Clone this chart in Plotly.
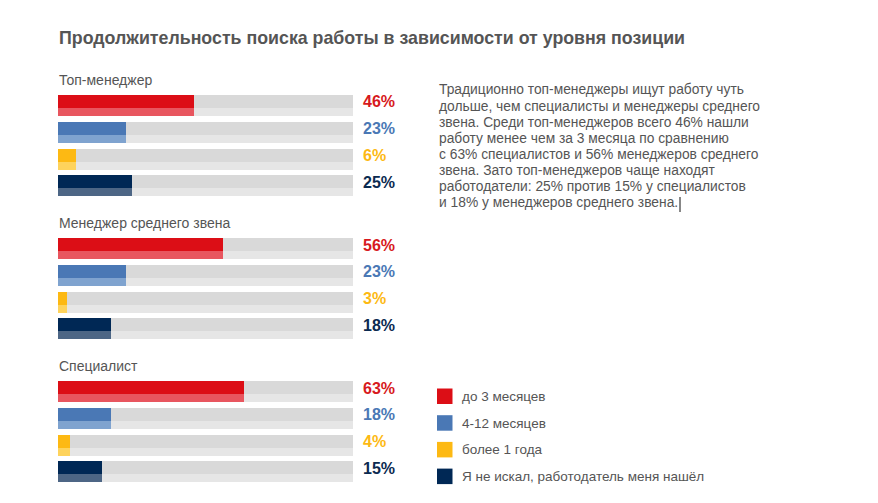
import plotly.graph_objects as go

# ---- data ----
groups = ["Топ-менеджер", "Менеджер среднего звена", "Специалист"]
series_names = ["до 3 месяцев", "4-12 месяцев", "более 1 года", "Я не искал, работодатель меня нашёл"]
top_manager = [46, 23, 6, 25]
middle_manager = [56, 23, 3, 18]
specialist = [63, 18, 4, 15]
values = [top_manager, middle_manager, specialist]

title = "Продолжительность поиска работы в зависимости от уровня позиции"
note_lines = [
    "Традиционно топ-менеджеры ищут работу чуть",
    "дольше, чем специалисты и менеджеры среднего",
    "звена. Среди топ-менеджеров всего 46% нашли",
    "работу менее чем за 3 месяца по сравнению",
    "с 63% специалистов и 56% менеджеров среднего",
    "звена. Зато топ-менеджеров чаще находят",
    "работодатели: 25% против 15% у специалистов",
    "и 18% у менеджеров среднего звена.",
]

# ---- styles ----
W, H = 878, 503
OFF = 8  # page body margin compensation
dark_cols = ["#DC0E16", "#4A78B5", "#FDB913", "#002855"]
light_cols = ["#E8565F", "#7FA3CF", "#FED35C", "#4D6685"]
label_cols = ["#D71920", "#4A78B5", "#FDB913", "#0B2A50"]
bg_dark, bg_light = "#D9D9D9", "#E6E6E6"
text_col = "#555555"
FONT = "Liberation Sans, Arial, sans-serif"


def px(x):
    return (x - OFF) / W


def py(y):
    return 1 - (y - OFF) / H


first_row_top = 95.0
group_pitch = 143.0
row_pitch = 26.8
h_top, h_bot = 13.0, 8.0

fig = go.Figure()


def row_top(g, i):
    return first_row_top + g * group_pitch + i * row_pitch - OFF


# background tracks
ys_top, ys_bot = [], []
for g in range(len(groups)):
    for i in range(len(series_names)):
        t = row_top(g, i)
        ys_top.append(t + h_top / 2)
        ys_bot.append(t + h_top + h_bot / 2)
fig.add_trace(go.Bar(x=[100] * len(ys_top), y=ys_top, width=h_top, orientation="h",
                     marker=dict(color=bg_dark, line=dict(width=0)), showlegend=False, hoverinfo="skip"))
fig.add_trace(go.Bar(x=[100] * len(ys_bot), y=ys_bot, width=h_bot, orientation="h",
                     marker=dict(color=bg_light, line=dict(width=0)), showlegend=False, hoverinfo="skip"))

# value bars
for i, name in enumerate(series_names):
    xs = [values[g][i] for g in range(len(groups))]
    yt = [row_top(g, i) + h_top / 2 for g in range(len(groups))]
    yb = [row_top(g, i) + h_top + h_bot / 2 for g in range(len(groups))]
    fig.add_trace(go.Bar(x=xs, y=yt, width=h_top, orientation="h", name=name,
                         marker=dict(color=dark_cols[i], line=dict(width=0)), showlegend=False))
    fig.add_trace(go.Bar(x=xs, y=yb, width=h_bot, orientation="h", name=name,
                         marker=dict(color=light_cols[i], line=dict(width=0)), showlegend=False))

annotations = []
shapes = []
# value labels
for g in range(len(groups)):
    for i in range(len(series_names)):
        annotations.append(dict(
            x=px(361), y=1 - (row_top(g, i) + 7) / H, xref="paper", yref="paper",
            text=f"<b>{values[g][i]}%</b>", showarrow=False, xanchor="left", yanchor="middle",
            font=dict(family=FONT, size=16, color=label_cols[i])))
    # group label
    annotations.append(dict(
        x=px(57), y=1 - (row_top(g, 0) - 15) / H, xref="paper", yref="paper",
        text=groups[g], showarrow=False, xanchor="left", yanchor="middle",
        font=dict(family=FONT, size=14, color=text_col)))

# title
annotations.append(dict(x=px(57), y=py(38), xref="paper", yref="paper",
                        text=f"<b>{title}</b>", showarrow=False, xanchor="left", yanchor="middle",
                        font=dict(family=FONT, size=17.8, color=text_col)))

# note paragraph (one annotation per line for exact spacing)
for k, line in enumerate(note_lines):
    annotations.append(dict(x=px(437), y=py(90 + k * 16.1), xref="paper", yref="paper",
                            text=line, showarrow=False, xanchor="left", yanchor="middle",
                            align="left", font=dict(family=FONT, size=13.8, color=text_col)))
# text cursor mark seen in the reference
shapes.append(dict(type="line", xref="paper", yref="paper",
                   x0=px(680), x1=px(680), y0=py(197), y1=py(212),
                   line=dict(color="#111111", width=1)))

# legend
leg_top = 388.5
leg_pitch = 26.7
for i, name in enumerate(series_names):
    t = leg_top + i * leg_pitch
    shapes.append(dict(type="rect", xref="paper", yref="paper",
                       x0=px(437), x1=px(452.5), y0=py(t), y1=py(t + 15.5),
                       fillcolor=dark_cols[i], line=dict(width=0)))
    annotations.append(dict(x=px(460), y=py(t + 8), xref="paper", yref="paper",
                            text=name, showarrow=False, xanchor="left", yanchor="middle",
                            font=dict(family=FONT, size=13.5, color=text_col)))

fig.update_layout(
    width=W, height=H,
    margin=dict(l=0, r=0, t=0, b=0),
    paper_bgcolor="white", plot_bgcolor="white",
    barmode="overlay", bargap=0,
    xaxis=dict(domain=[px(58), px(353)], range=[0, 100], visible=False, fixedrange=True),
    yaxis=dict(domain=[0, 1], range=[H, 0], visible=False, fixedrange=True),
    annotations=annotations, shapes=shapes,
    showlegend=False,
)

fig.write_html("out.html")
